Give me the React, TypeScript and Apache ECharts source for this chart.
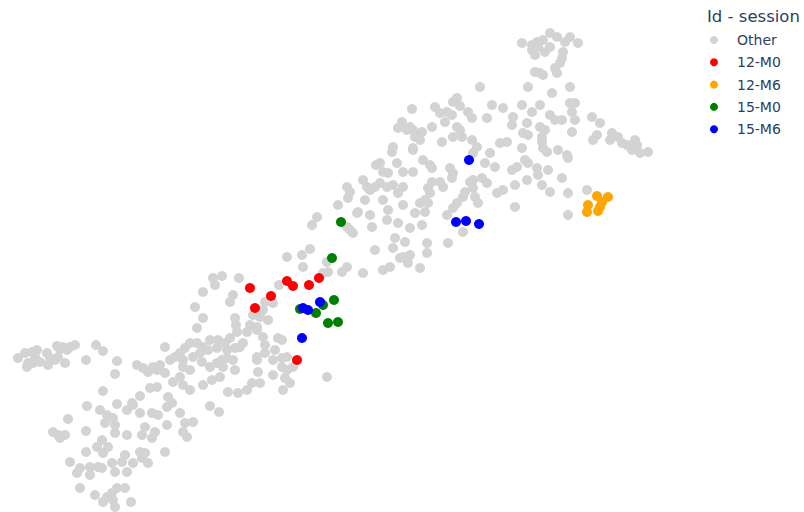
import React, { useEffect, useRef } from "react";
import * as echarts from "echarts";

// UMAP-like embedding coordinates (x right, y down)
const other: number[][] = [
  [18,358],[25,353],[32,352],[37,350],[35,357],[28,363],[27,367],[33,363],[40,362],[47,353],[50,358],[48,365],[55,360],[58,357],[65,363],[57,346],[63,347],[70,347],[75,345],[67,350],[60,349],
  [86,360],[96,345],[103,351],[117,361],[115,374],[137,365],[143,368],[148,372],
  [103,391],[140,396],[168,397],
  [87,406],[68,419],[53,432],[58,435],[65,435],[60,438],[86,431],[97,447],[86,452],[70,462],[80,468],[77,473],[90,467],[90,475],[98,467],[80,488],[95,495],
  [117,404],[132,403],[127,410],[133,405],[140,413],[152,413],[158,415],[167,407],[172,403],[180,413],[210,406],[219,412],[100,410],[107,415],[113,418],[105,423],[115,425],[115,433],[127,435],[142,435],[145,427],[155,432],[152,438],[167,425],[185,423],[193,422],[183,432],[187,437],[102,440],[108,447],[103,453],[125,455],[140,452],[145,453],[142,458],[148,463],[133,463],[122,462],[112,463],[102,468],[115,472],[127,472],[165,452],[117,488],[125,488],[112,493],[107,497],[113,500],[103,502],[115,507],[131,502],
  [213,278],[222,276],[239,278],[203,292],[215,285],[233,295],[230,302],[195,307],[203,318],[197,328],[279,285],[265,302],[273,303],[263,310],[253,315],[260,317],[268,320],[250,325],[257,327],[235,318],[236,325],[237,332],[230,338],[243,343],[225,343],[218,340],[210,340],[203,347],[197,343],[190,343],[185,348],[180,353],[175,357],[170,360],[165,347],[183,360],[193,357],[200,353],[208,350],[217,348],[227,350],[235,348],[240,347],[222,360],[227,358],[233,360],[235,370],[223,367],[217,363],[210,367],[202,362],[190,370],[183,367],[180,377],[173,382],[165,373],[157,370],[153,367],[160,365],[150,388],[157,387],[183,385],[190,390],[203,385],[212,380],[220,377],[228,392],[238,393],[247,390],[252,383],[260,383],[258,372],[257,360],[257,357],[265,353],[275,350],[273,360],[282,358],[287,357],[282,367],[287,370],[293,367],[273,375],[285,378],[290,383],[283,390],[263,337],[265,345],[282,340],[278,338],[247,332],[257,330],[327,377],
  [287,257],
  [392,152],[413,150],[473,153],[485,163],[495,167],[490,153],[380,163],[376,165],[383,172],[397,163],[388,173],[403,172],[413,172],[423,160],[430,165],[432,168],[450,168],[453,173],[452,178],[473,180],[470,182],[482,178],[487,183],[497,193],[473,188],[465,192],[463,197],[475,197],[478,203],[457,203],[453,208],[447,215],[463,232],[448,243],[440,182],[443,187],[432,182],[428,188],[430,193],[425,200],[420,203],[428,203],[425,212],[403,205],[415,213],[403,187],[398,193],[393,185],[387,187],[380,183],[375,187],[370,190],[367,187],[363,180],[347,187],[350,192],[348,198],[338,205],[365,200],[383,200],[388,210],[370,215],[387,220],[398,223],[410,228],[422,225],[372,227],[358,212],[357,213],[350,230],[353,233],[347,227],[317,217],[312,225],[395,238],[405,242],[393,248],[375,250],[427,243],[427,253],[403,257],[410,255],[408,263],[400,258],[420,268],[390,267],[383,270],[363,273],[347,267],[342,272],[310,249],[302,255],[303,267],[327,262],[328,272],[323,273],
  [522,43],[532,45],[537,42],[543,40],[550,33],[557,37],[550,47],[545,52],[535,55],[532,50],[538,47],[570,37],[578,43],[565,42],[563,52],[562,58],[560,63],[555,68],[557,73],[535,72],[540,73],[543,75],[480,87],[528,87],[570,87],
  [412,109],[435,107],[457,98],[453,102],[460,106],[440,113],[447,112],[452,115],[468,112],[472,118],[492,105],[402,122],[398,128],[407,130],[410,127],[413,130],[415,137],[420,140],[422,132],[413,148],[393,147],[432,127],[445,122],[457,127],[460,130],[453,137],[462,137],[442,142],[472,140],[477,147],[487,118],
  [503,108],[522,105],[540,105],[552,93],[570,103],[575,103],[572,112],[513,117],[532,112],[550,115],[555,120],[562,120],[575,120],[512,125],[527,123],[540,127],[545,130],[523,133],[528,135],[542,137],[572,132],[592,117],[600,123],[597,135],[593,140],[612,133],[618,137],[610,140],[622,143],[627,145],[635,140],[637,145],[632,150],[640,153],[648,152],[500,143],[507,142],[522,148],[542,142],[543,148],[547,152],[558,150],[567,155],[568,158],[525,160],[528,163],[512,170],[517,167],[537,168],[538,175],[548,170],[562,178],[527,180],[515,185],[542,185],[503,190],[550,192],[568,193],[587,190],[515,207],[568,215]
];
const s12M0: number[][] = [[250,288],[271,296],[255,308],[287,281],[293,286],[309,285],[319,278],[297,360]];
const s12M6: number[][] = [[597,196],[608,197],[602,202],[588,205],[600,207],[587,212],[598,211]];
const s15M0: number[][] = [[341,222],[332,258],[334,300],[323,305],[316,313],[300,309],[328,323],[338,322]];
const s15M6: number[][] = [[469,160],[456,222],[466,221],[479,224],[303,308],[308,310],[320,302],[302,338]];

const seriesNames = ["Other", "12-M0", "12-M6", "15-M0", "15-M6"];
const seriesData = [other, s12M0, s12M6, s15M0, s15M6];
const seriesColors = ["#d3d3d3", "#ff0000", "#ffa500", "#008000", "#0000ff"];

export default function App() {
  const ref = useRef<HTMLDivElement>(null);
  useEffect(() => {
    const chart = echarts.init(ref.current!, null, { renderer: "svg" });
    chart.setOption({
      animation: false,
      backgroundColor: "#ffffff",
      title: {
        text: "Id - session",
        left: 707,
        top: 8,
        padding: 0,
        textStyle: { fontFamily: "DejaVu Sans", fontSize: 16.5, fontWeight: "normal", color: "#2a3f5f" },
      },
      legend: {
        orient: "vertical",
        left: 710,
        top: 33,
        padding: 0,
        itemWidth: 36,
        itemHeight: 8,
        itemGap: 8.3,
        icon: "circle",
        data: seriesNames,
        textStyle: { fontFamily: "DejaVu Sans", fontSize: 14, color: "#2a3f5f" },
      },
      grid: { left: 0, right: 0, top: 0, bottom: 0 },
      xAxis: { type: "value", min: 0, max: 804, show: false },
      yAxis: { type: "value", min: 0, max: 512, inverse: true, show: false },
      series: seriesNames.map((name, i) => ({
        name,
        type: "scatter",
        data: seriesData[i],
        symbolSize: 10,
        itemStyle: { color: seriesColors[i], opacity: 1 },
        emphasis: { disabled: true },
      })),
    });
    return () => chart.dispose();
  }, []);
  return <div ref={ref} style={{ position: "absolute", left: 0, top: 0, width: 804, height: 512 }} />;
}
